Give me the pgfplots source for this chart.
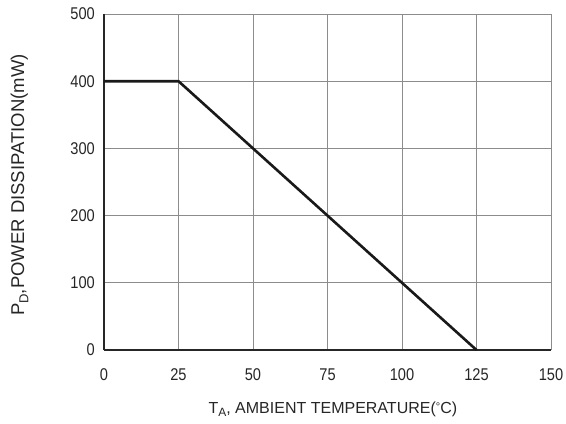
\documentclass[border=0pt]{standalone}
\usepackage{pgfplots}
\pgfplotsset{compat=1.18}
\usepackage{fontspec}
\setmainfont{Liberation Sans}
\newfontfamily\tickf{Liberation Sans}[FakeStretch=0.86]
\begin{document}
\begin{tikzpicture}
\begin{axis}[
  scale only axis, width=447pt, height=336pt,
  xmin=0, xmax=150, ymin=0, ymax=500,
  xtick={0,25,...,150}, ytick={0,100,...,500},
  grid=major, major grid style={black!45, line width=0.8pt},
  axis x line*=bottom, axis y line*=left,
  axis line style={line width=2.6pt, -, black!85},
  tick style={draw=none},
  /pgf/number format/assume math mode=true,
  tick label style={font=\tickf\fontsize{17}{20}\selectfont, black!85, inner sep=0pt},
  xticklabel style={anchor=base, yshift=-30pt},
  yticklabel style={anchor=east, xshift=-9pt},
  xlabel={T\raisebox{-0.45ex}{\fontsize{12}{12}\selectfont A}, AMBIENT TEMPERATURE(\raisebox{0.35ex}{\fontsize{11}{11}\selectfont °}C)},
  ylabel={P\raisebox{-0.45ex}{\fontsize{13}{13}\selectfont D},POWER DISSIPATION(mW)},
  xlabel style={at={(axis description cs:0.512,-0.1875)}, anchor=base, font=\fontsize{16}{19}\selectfont, black!85, inner sep=0pt},
  ylabel style={at={(axis description cs:-0.189,0.491)}, anchor=center, font=\fontsize{18.5}{21}\selectfont, black!85, inner sep=0pt},
  clip=false,
]
\addplot[black!90, line width=2.6pt, line join=round] coordinates {(0,400) (25,400) (125,0)};
\end{axis}
\pgfresetboundingbox
\path[use as bounding box] ([shift={(-104pt,-73pt)}]current axis.south west) rectangle ([shift={(15pt,14pt)}]current axis.north east);
\end{tikzpicture}
\end{document}
